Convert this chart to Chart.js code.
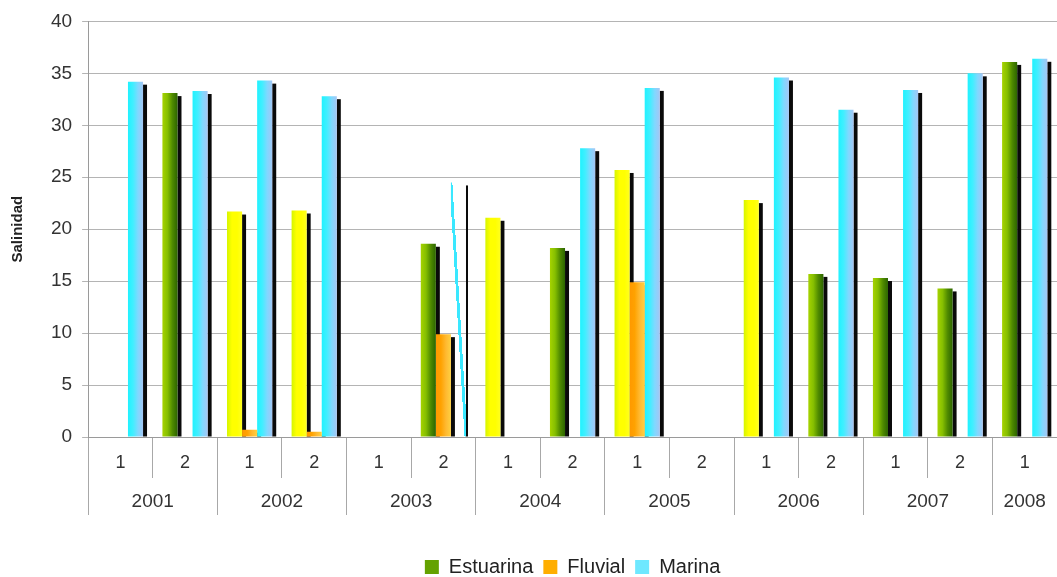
<!DOCTYPE html>
<html>
<head>
<meta charset="utf-8">
<script src="https://cdn.jsdelivr.net/npm/chart.js@4.4.1/dist/chart.umd.min.js"></script>
<style>
  html, body { margin: 0; padding: 0; background: #fff; }
  canvas { display: block; }
</style>
</head>
<body>
<canvas id="chart" width="1057" height="577"></canvas>
<script>
// Semester labels (first row of the category axis) and the years they belong to
const semesters = ['1', '2', '1', '2', '1', '2', '1', '2', '1', '2', '1', '2', '1', '2', '1'];
const years = ['2001', '2002', '2003', '2004', '2005', '2006', '2007', '2008'];
const semestersPerYear = [2, 2, 2, 2, 2, 2, 2, 1];

// Mean salinity per semester and water type
const estuarina = [null, 33.1, 21.7, 21.8, null, 18.6, 21.1, 18.2, 25.7, null, 22.8, 15.7, 15.3, 14.3, 36.1];
const fluvial   = [null, null, 0.7, 0.5, null, 9.9, null, null, 14.9, null, null, null, null, null, null];
const marina    = [34.2, 33.3, 34.3, 32.8, null, 24.5, null, 27.8, 33.6, null, 34.6, 31.5, 33.4, 35.0, 36.4];

// Value axis range
const yMin = 0, yMax = 40, yStep = 5;

// ---- styling ----
const CATEGORY_PCT = 0.7;
const BAR_PCT = 1.0;
const FONT = "'Liberation Sans', Arial, sans-serif";
const yellowEstuarina = new Set([2, 3, 6, 8, 10]);   // Estuarina bars painted yellow
const slantedMarina = new Set([5]);                   // Marina bar drawn as a thin slanted stroke

const gradientStops = {
  green:  ['#a6d300', '#86bf00', '#4f8a00', '#2c6500'],
  yellow: ['#d6f500', '#ffff00', '#ffff00', '#ffff20'],
  orange: ['#ff9800', '#ffa200', '#ffb930', '#ffd040'],
  cyan:   ['#20f2ff', '#40efff', '#80d8ff', '#a4c6f4']
};
const legendColors = ['#64a200', '#ffae00', '#6ee8ff'];

Chart.defaults.font.family = FONT;
Chart.defaults.color = '#333';

// Horizontal extent of one bar, following the bar controller's own layout rules
function barSpan(chart, datasetIndex, index) {
  const xs = chart.scales.x;
  const catW = xs.getPixelForValue(1) - xs.getPixelForValue(0);
  const size = catW * CATEGORY_PCT;
  const chunk = size / chart.data.datasets.length;
  const left = xs.getPixelForValue(index) - size / 2 + chunk * datasetIndex + chunk * (1 - BAR_PCT) / 2;
  return { left, right: left + chunk * BAR_PCT };
}

function horizontalGradient(c, left, right, stops) {
  const g = c.createLinearGradient(left, 0, right, 0);
  stops.forEach((col, k) => g.addColorStop(k / (stops.length - 1), col));
  return g;
}

// Thin stroke from the top-left to the bottom-right corner of the bar box
function slantedStroke(c, left, right, top, bottom, color) {
  const cx = (left + right) / 2, cy = (top + bottom) / 2;
  const dx = right - left, dy = bottom - top;
  const len = Math.hypot(dx, dy);
  const nx = dy / len, ny = -dx / len;
  const half = 6;
  const g = c.createLinearGradient(cx - nx * half, cy - ny * half, cx + nx * half, cy + ny * half);
  const clear = 'rgba(255,255,255,0)';
  g.addColorStop(0, clear);
  g.addColorStop(0.38, clear);
  g.addColorStop(0.38, color);
  g.addColorStop(0.62, color);
  g.addColorStop(0.62, clear);
  g.addColorStop(1, clear);
  return g;
}

function barFill(kindFor, datasetIndex) {
  return ctx => {
    if (ctx.type !== 'data' || !ctx.chart.chartArea || !ctx.chart.scales.x) {
      return legendColors[datasetIndex];
    }
    const chart = ctx.chart;
    const span = barSpan(chart, datasetIndex, ctx.dataIndex);
    if (datasetIndex === 2 && slantedMarina.has(ctx.dataIndex)) {
      const ys = chart.scales.y;
      return slantedStroke(chart.ctx, span.left, span.right,
        ys.getPixelForValue(ctx.raw), ys.getPixelForValue(0), '#3ae8ff');
    }
    return horizontalGradient(chart.ctx, span.left, span.right, gradientStops[kindFor(ctx.dataIndex)]);
  };
}

// Year row: separators at year boundaries, labels at the middle of each year
const yearTicks = [];
let pos = 0;
semestersPerYear.forEach((n, i) => {
  yearTicks.push({ value: pos - 0.5, label: '' });
  yearTicks.push({ value: pos + (n - 1) / 2, label: years[i] });
  pos += n;
});
yearTicks.push({ value: pos - 0.5, label: '' });
const yearBoundaries = new Set(yearTicks.filter(t => t.label === '').map(t => t.value));

// Dark drop shadow on the right side of every bar
const barShadow = {
  id: 'barShadow',
  beforeDatasetsDraw(chart) {
    const c = chart.ctx, a = chart.chartArea;
    c.save();
    c.beginPath();
    c.rect(a.left, a.top - 2, a.right - a.left + 10, a.bottom - a.top + 2);
    c.clip();
    c.fillStyle = '#0a0a0a';
    chart.data.datasets.forEach((ds, di) => {
      const meta = chart.getDatasetMeta(di);
      meta.data.forEach((bar, i) => {
        if (ds.data[i] == null) return;
        const w = (di === 2 && slantedMarina.has(i)) ? 2 : 4;
        c.fillRect(bar.x + bar.width / 2, bar.y + 3, w, bar.base - bar.y - 3);
      });
    });
    c.restore();
  }
};

new Chart(document.getElementById('chart'), {
  type: 'bar',
  data: {
    labels: semesters,
    datasets: [
      { label: 'Estuarina', data: estuarina,
        backgroundColor: barFill(i => yellowEstuarina.has(i) ? 'yellow' : 'green', 0) },
      { label: 'Fluvial', data: fluvial, backgroundColor: barFill(() => 'orange', 1) },
      { label: 'Marina', data: marina, backgroundColor: barFill(() => 'cyan', 2) }
    ]
  },
  options: {
    responsive: false,
    animation: false,
    events: [],
    devicePixelRatio: 1,
    categoryPercentage: CATEGORY_PCT,
    barPercentage: BAR_PCT,
    borderWidth: 0,
    layout: { padding: { top: 19, right: 0, bottom: -10, left: 0 } },
    plugins: {
      tooltip: { enabled: false },
      legend: {
        position: 'bottom',
        fullSize: false,
        labels: {
          boxWidth: 14, boxHeight: 14, padding: 10,
          font: { size: 20 }, color: '#222',
          generateLabels: chart => Chart.defaults.plugins.legend.labels.generateLabels(chart)
            .map(item => Object.assign(item, { fillStyle: legendColors[item.datasetIndex], lineWidth: 0, strokeStyle: 'rgba(0,0,0,0)' }))
        }
      }
    },
    scales: {
      x: {
        type: 'category',
        offset: true,
        grid: { offset: true, drawOnChartArea: false, tickLength: 41, color: '#a8a8a8' },
        border: { color: '#9a9a9a' },
        ticks: { padding: -26, autoSkip: false, maxRotation: 0, font: { size: 18 }, color: '#333' },
        afterFit: axis => { axis.height = 41; }
      },
      x2: {
        type: 'linear',
        position: 'bottom',
        offset: false,
        min: yearTicks[0].value,
        max: yearTicks[yearTicks.length - 1].value,
        afterBuildTicks: axis => { axis.ticks = yearTicks.map(t => ({ value: t.value })); },
        grid: {
          offset: false,
          drawOnChartArea: false,
          tickLength: 37,
          color: ctx => (ctx.tick && yearBoundaries.has(ctx.tick.value)) ? '#a8a8a8' : 'rgba(0,0,0,0)'
        },
        border: { display: false },
        ticks: {
          padding: -25,
          autoSkip: false,
          maxRotation: 0,
          font: { size: 19 },
          color: '#333',
          callback: value => { const t = yearTicks.find(y => y.value === value); return t ? t.label : ''; }
        },
        afterFit: axis => { axis.height = 69; }
      },
      y: {
        min: yMin,
        max: yMax,
        ticks: { stepSize: yStep, padding: 10, font: { size: 19 }, color: '#333' },
        grid: { color: '#b4b4b4', tickLength: 6 },
        border: { color: '#9a9a9a' },
        title: {
          display: true,
          text: 'Salinidad',
          font: { size: 15, weight: 'bold' },
          color: '#222',
          padding: { top: 9, bottom: 14 }
        }
      }
    }
  },
  plugins: [barShadow]
});
</script>
</body>
</html>
